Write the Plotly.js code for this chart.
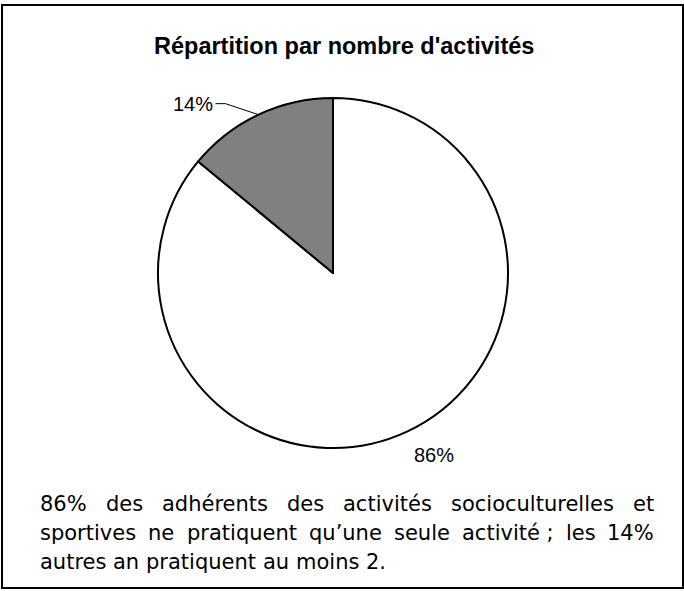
<!DOCTYPE html>
<html><head><meta charset="utf-8">
<script src="https://cdn.plot.ly/plotly-3.0.1.min.js"></script>
<style>html,body{margin:0;padding:0;background:#fff;}#chart{width:684px;height:591px;}</style>
</head><body><div id="chart"></div>
<script>
const chartTitle = "Répartition par nombre d'activités";
const categories = ["Une seule activité", "Au moins 2 activités"];
const values = [86, 14];
const sliceColors = ["#ffffff", "#808080"];
const captionLines = [
  "86% des adhérents des activités socioculturelles et",
  "sportives ne pratiquent qu\u2019une seule activité\u00a0; les 14%",
  "autres an pratiquent au moins 2."
];

const W = 684, H = 591;
const px = x => x / W, py = y => 1 - y / H;
const cx = 333, cy = 273, R = 175;
const total = values.reduce((a, b) => a + b, 0);
let cum = 0;
// clockwise from 12 o'clock
const mids = values.map(v => { const a = (90 - (cum + v / 2) / total * 360) * Math.PI / 180; cum += v; return a; });
const arcPt = i => [cx + R * Math.cos(mids[i]), cy - R * Math.sin(mids[i])];
const pctText = values.map(v => Math.round(v / total * 100) + '%');

const annotations = [];
const shapes = [];

// frame
shapes.push({type: 'rect', xref: 'paper', yref: 'paper', x0: px(2), x1: px(683), y0: py(588), y1: py(5),
  line: {color: '#000', width: 2}, fillcolor: 'rgba(0,0,0,0)', layer: 'below'});

// title
annotations.push({xref: 'paper', yref: 'paper', x: px(344), y: py(46), xanchor: 'center', yanchor: 'middle',
  text: '<b>' + chartTitle + '</b>', showarrow: false, font: {family: 'Liberation Sans, Arial, sans-serif', size: 23.5, color: '#000'}});

// label for the small slice with leader line
const p0 = arcPt(1);
const elbow = [p0[0] - 33, p0[1] - 11];
const lend = [elbow[0] - 10, elbow[1]];
shapes.push({type: 'path', xref: 'paper', yref: 'paper',
  path: `M${px(p0[0])},${py(p0[1])} L${px(elbow[0])},${py(elbow[1])} L${px(lend[0])},${py(lend[1])}`,
  line: {color: '#000', width: 1}});
annotations.push({xref: 'paper', yref: 'paper', x: px(lend[0] - 1), y: py(lend[1]), xanchor: 'right', yanchor: 'middle',
  text: pctText[1], showarrow: false, borderpad: 0, font: {family: 'Liberation Sans, Arial, sans-serif', size: 20, color: '#000'}});

// label for the large slice
const p1 = arcPt(0);
annotations.push({xref: 'paper', yref: 'paper', x: px(p1[0] + 26), y: py(p1[1] + 24), xanchor: 'center', yanchor: 'middle',
  text: pctText[0], showarrow: false, borderpad: 0, font: {family: 'Liberation Sans, Arial, sans-serif', size: 20, color: '#000'}});

// justified caption
const bodyFont = 'DejaVu Sans';
const bodySize = 21;
const ctx = document.createElement('canvas').getContext('2d');
ctx.font = bodySize + 'px "' + bodyFont + '"';
const left = 40, right = 654;
const lineYs = [504, 533, 562];
captionLines.forEach((line, li) => {
  const toks = line.split(' ');
  const ws = toks.map(t => ctx.measureText(t).width);
  const sum = ws.reduce((a, b) => a + b, 0);
  const justify = li < captionLines.length - 1;
  const gap = justify ? (right - left - sum) / (toks.length - 1) : ctx.measureText(' ').width;
  let x = left;
  toks.forEach((t, i) => {
    annotations.push({xref: 'paper', yref: 'paper', x: px(x), y: py(lineYs[li]), xanchor: 'left', yanchor: 'middle',
      text: t, showarrow: false, borderpad: 0, borderwidth: 0,
      font: {family: bodyFont, size: bodySize, color: '#000'}});
    x += ws[i] + gap;
  });
});

const data = [{
  type: 'pie', labels: categories, values: values, sort: false, direction: 'clockwise', rotation: 0,
  marker: {colors: sliceColors, line: {color: '#000', width: 2}},
  textinfo: 'none', hoverinfo: 'skip', showlegend: false,
  domain: {x: [px(cx - R), px(cx + R)], y: [py(cy + R), py(cy - R)]}
}];

const layout = {
  width: W, height: H, margin: {l: 0, r: 0, t: 0, b: 0},
  paper_bgcolor: '#fff', plot_bgcolor: '#fff', showlegend: false,
  shapes: shapes, annotations: annotations
};
Plotly.newPlot('chart', data, layout, {displayModeBar: false, staticPlot: true});
</script>
</body></html>
